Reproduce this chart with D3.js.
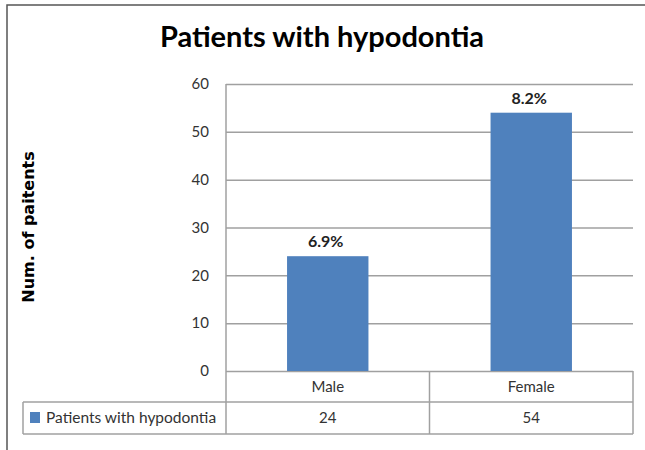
<!DOCTYPE html>
<html>
<head>
<meta charset="utf-8">
<script src="https://cdn.jsdelivr.net/npm/d3@7"></script>
<style>
  body { margin: 0; background: #fff; }
  svg { display: block; font-family: Lato, "Open Sans", sans-serif; }
</style>
</head>
<body>
<svg id="chart"></svg>
<script>
/* Chart data. */
const categories = ["Male", "Female"]
const values = [24, 54]
const percentLabels = ["6.9%", "8.2%"]
const yTicks = [0, 10, 20, 30, 40, 50, 60]
const seriesName = "Patients with hypodontia"

/* Size of the picture. */
const width = 645
const height = 450

const svg = d3.select("#chart")
  .attr("width", width)
  .attr("height", height)

/* Plot area edges. */
const plotLeft = 226
const plotRight = 633
const plotTop = 84
const plotBottom = 371
const rowMid = 402
const tableBottom = 434
const legendLeft = 23

const gridColor = "#a0a0a0"
const barColor = "#4f81bd"

/* Outer frame (only left and top are visible). */
svg.append("path")
  .attr("d", `M7,${height} L7,5 L${width},5`)
  .attr("fill", "none")
  .attr("stroke", "#555")
  .attr("stroke-width", 1.5)

/* Title. */
svg.append("text")
  .attr("x", 322)
  .attr("y", 47)
  .attr("text-anchor", "middle")
  .attr("font-size", 29)
  .attr("font-weight", "bold")
  .attr("fill", "#000")
  .text("Patients with hypodontia")

/* Scales. */
const xScale = d3.scaleBand()
  .domain(categories)
  .range([plotLeft, plotRight])

const yScale = d3.scaleLinear()
  .domain([0, 60])
  .range([plotBottom, plotTop])

/* Horizontal grid. */
const yGrid = d3.axisLeft(yScale)
  .tickValues(yTicks)
  .tickSize(-(plotRight - plotLeft))
  .tickFormat("")

svg.append("g")
  .attr("transform", `translate(${plotLeft},0)`)
  .call(yGrid)
  .call(g => g.select(".domain").remove())
  .call(g => g.selectAll("line").attr("stroke", gridColor).attr("stroke-width", 1.5))

/* Y axis labels. */
const yAxis = d3.axisLeft(yScale)
  .tickValues(yTicks)
  .tickSize(0)
  .tickPadding(17)

svg.append("g")
  .attr("transform", `translate(${plotLeft},0)`)
  .call(yAxis)
  .call(g => g.select(".domain").remove())
  .call(g => g.selectAll("text")
    .attr("font-size", 15)
    .attr("fill", "#333")
    .attr("font-family", "Lato, sans-serif"))

/* Y axis title. */
svg.append("text")
  .attr("transform", "translate(34,227) rotate(-90)")
  .attr("text-anchor", "middle")
  .attr("font-family", "'DejaVu Sans', sans-serif")
  .attr("font-size", 16)
  .attr("font-weight", "bold")
  .attr("fill", "#000")
  .text("Num. of paitents")

/* Bars. */
const barWidth = xScale.bandwidth() * 0.4

svg.selectAll(".bar")
  .data(values)
  .join("rect")
  .attr("class", "bar")
  .attr("x", (d, i) => xScale(categories[i]) + (xScale.bandwidth() - barWidth) / 2)
  .attr("y", d => yScale(d))
  .attr("width", barWidth)
  .attr("height", d => yScale(0) - yScale(d))
  .attr("fill", barColor)

/* Percent labels above the bars. */
svg.selectAll(".pct")
  .data(values)
  .join("text")
  .attr("class", "pct")
  .attr("x", (d, i) => xScale(categories[i]) + xScale.bandwidth() / 2 - 2)
  .attr("y", d => yScale(d) - 9)
  .attr("text-anchor", "middle")
  .attr("font-size", 16)
  .attr("font-weight", "bold")
  .attr("fill", "#222")
  .text((d, i) => percentLabels[i])

/* Data table lines. */
const tableLines = [
  [plotLeft, plotTop, plotLeft, tableBottom],
  [legendLeft, rowMid, plotRight, rowMid],
  [legendLeft, tableBottom, plotRight, tableBottom],
  [legendLeft, rowMid, legendLeft, tableBottom],
  [plotRight, plotBottom, plotRight, tableBottom]
]
categories.slice(1).forEach(c => {
  tableLines.push([xScale(c), plotBottom, xScale(c), tableBottom])
})

svg.selectAll(".tline")
  .data(tableLines)
  .join("line")
  .attr("class", "tline")
  .attr("x1", d => d[0])
  .attr("y1", d => d[1])
  .attr("x2", d => d[2])
  .attr("y2", d => d[3])
  .attr("stroke", gridColor)
  .attr("stroke-width", 1.5)

/* Category row. */
svg.selectAll(".cat")
  .data(categories)
  .join("text")
  .attr("class", "cat")
  .attr("x", d => xScale(d) + xScale.bandwidth() / 2)
  .attr("y", (plotBottom + rowMid) / 2 + 5)
  .attr("text-anchor", "middle")
  .attr("font-size", 15)
  .attr("fill", "#333")
  .text(d => d)

/* Value row. */
svg.selectAll(".val")
  .data(values)
  .join("text")
  .attr("class", "val")
  .attr("x", (d, i) => xScale(categories[i]) + xScale.bandwidth() / 2)
  .attr("y", (rowMid + tableBottom) / 2 + 5)
  .attr("text-anchor", "middle")
  .attr("font-size", 15)
  .attr("fill", "#333")
  .text(d => d)

/* Legend key in the table. */
svg.append("rect")
  .attr("x", 30)
  .attr("y", 412)
  .attr("width", 10)
  .attr("height", 11)
  .attr("fill", barColor)

svg.append("text")
  .attr("x", 46)
  .attr("y", (rowMid + tableBottom) / 2 + 5)
  .attr("font-size", 15.5)
  .attr("fill", "#333")
  .text(seriesName)
</script>
</body>
</html>
